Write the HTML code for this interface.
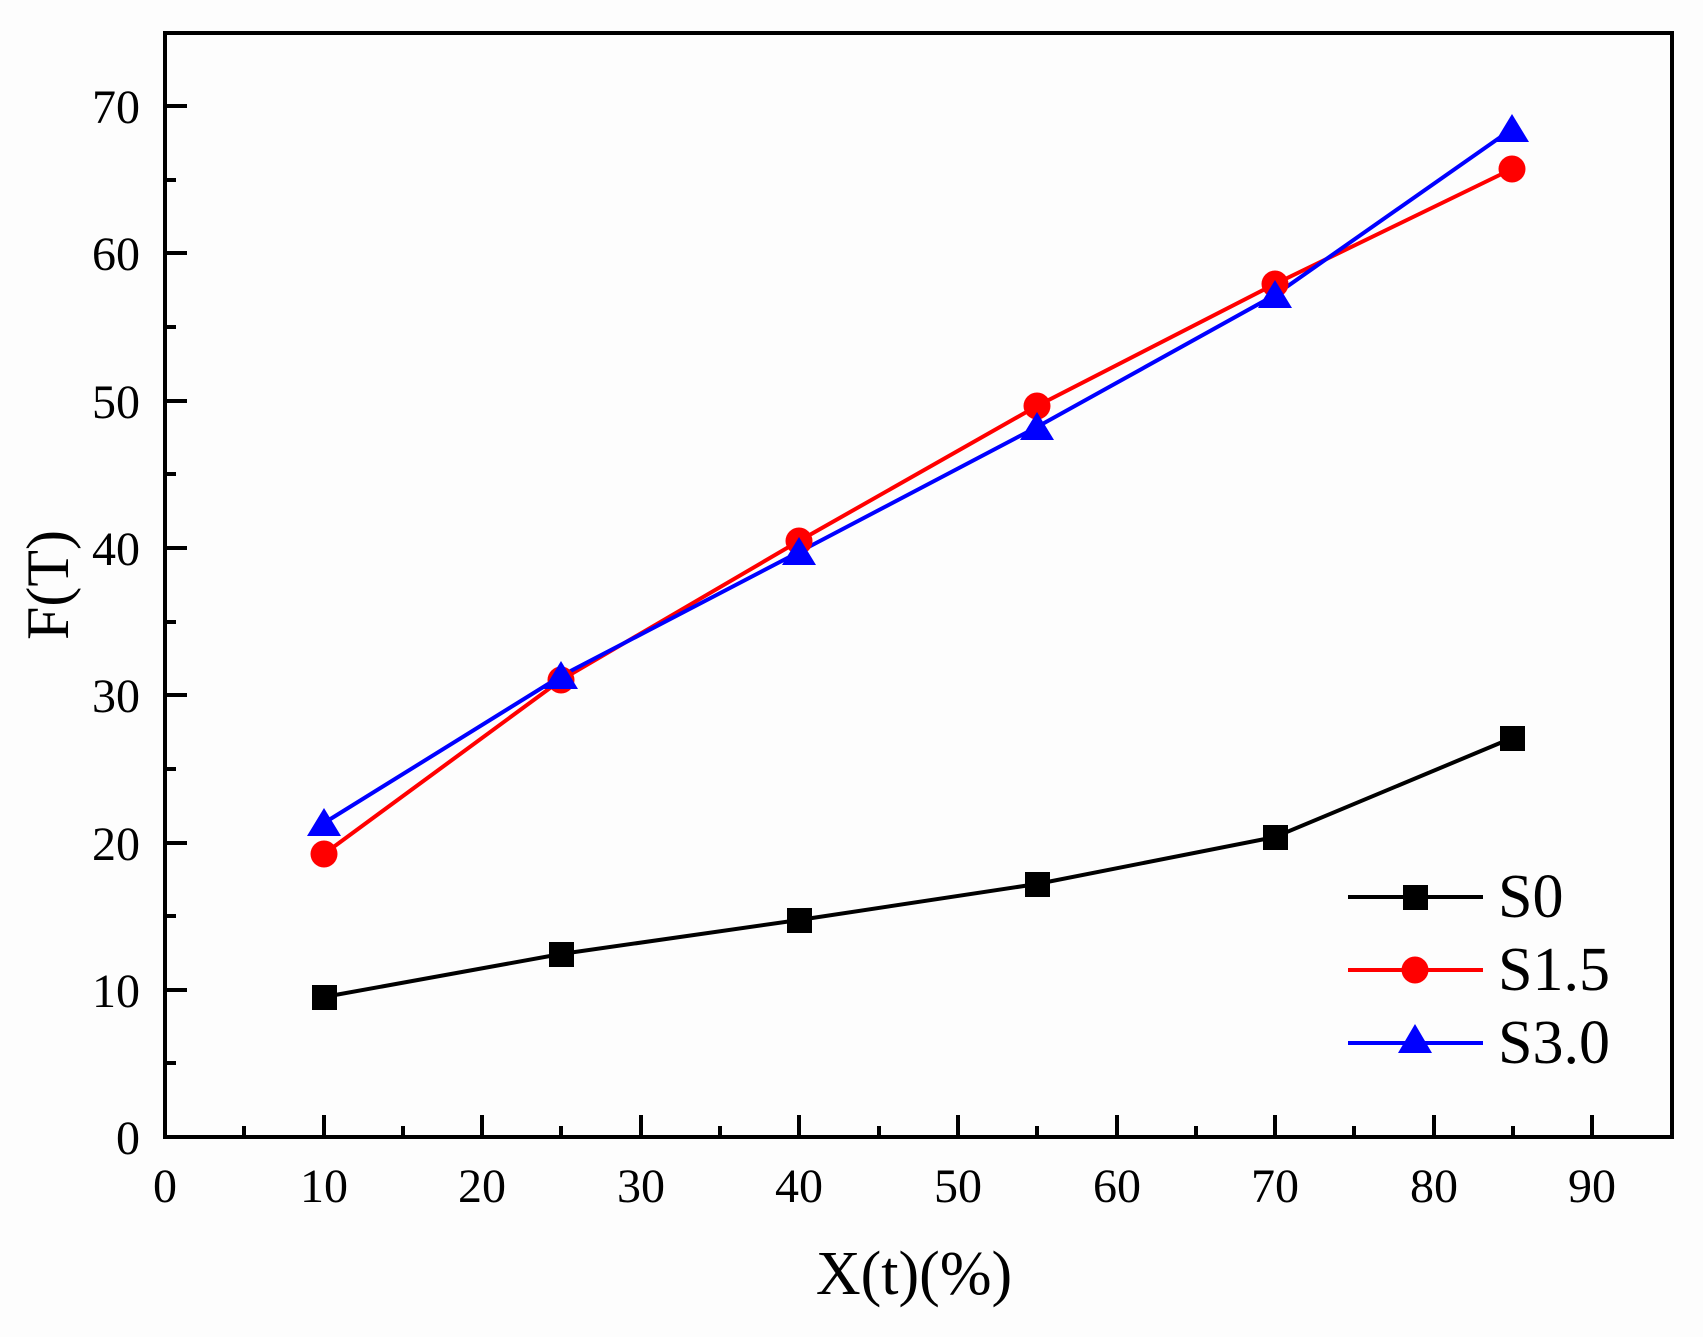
<!DOCTYPE html>
<html><head><style>html,body{margin:0;padding:0;background:#fdfdfd}</style></head>
<body>
<svg width="1703" height="1332" viewBox="0 0 1703 1332" xmlns="http://www.w3.org/2000/svg" font-family="Liberation Serif, serif">
<rect width="1703" height="1332" fill="#fdfdfd"/>
<rect x="165" y="33" width="1507" height="1104" fill="none" stroke="#000" stroke-width="4"/>
<g stroke="#000" stroke-width="4">
<line x1="165" y1="1137" x2="165" y2="1115"/><line x1="244" y1="1137" x2="244" y2="1126"/>
<line x1="324" y1="1137" x2="324" y2="1115"/><line x1="403" y1="1137" x2="403" y2="1126"/>
<line x1="482" y1="1137" x2="482" y2="1115"/><line x1="561" y1="1137" x2="561" y2="1126"/>
<line x1="641" y1="1137" x2="641" y2="1115"/><line x1="720" y1="1137" x2="720" y2="1126"/>
<line x1="799" y1="1137" x2="799" y2="1115"/><line x1="879" y1="1137" x2="879" y2="1126"/>
<line x1="958" y1="1137" x2="958" y2="1115"/><line x1="1037" y1="1137" x2="1037" y2="1126"/>
<line x1="1117" y1="1137" x2="1117" y2="1115"/><line x1="1196" y1="1137" x2="1196" y2="1126"/>
<line x1="1275" y1="1137" x2="1275" y2="1115"/><line x1="1354" y1="1137" x2="1354" y2="1126"/>
<line x1="1434" y1="1137" x2="1434" y2="1115"/><line x1="1513" y1="1137" x2="1513" y2="1126"/>
<line x1="1592" y1="1137" x2="1592" y2="1115"/>
<line x1="165" y1="1063" x2="176" y2="1063"/><line x1="165" y1="990" x2="187" y2="990"/>
<line x1="165" y1="916" x2="176" y2="916"/><line x1="165" y1="843" x2="187" y2="843"/>
<line x1="165" y1="769" x2="176" y2="769"/><line x1="165" y1="695" x2="187" y2="695"/>
<line x1="165" y1="622" x2="176" y2="622"/><line x1="165" y1="548" x2="187" y2="548"/>
<line x1="165" y1="474" x2="176" y2="474"/><line x1="165" y1="401" x2="187" y2="401"/>
<line x1="165" y1="327" x2="176" y2="327"/><line x1="165" y1="253" x2="187" y2="253"/>
<line x1="165" y1="180" x2="176" y2="180"/><line x1="165" y1="106" x2="187" y2="106"/>
</g>
<g font-size="48" text-anchor="middle" fill="#000">
<text x="165" y="1202">0</text><text x="324" y="1202">10</text><text x="482" y="1202">20</text>
<text x="641" y="1202">30</text><text x="799" y="1202">40</text><text x="958" y="1202">50</text>
<text x="1117" y="1202">60</text><text x="1275" y="1202">70</text><text x="1434" y="1202">80</text>
<text x="1592" y="1202">90</text>
</g>
<g font-size="48" text-anchor="end" fill="#000">
<text x="140" y="1154">0</text><text x="140" y="1007">10</text><text x="140" y="860">20</text>
<text x="140" y="712">30</text><text x="140" y="565">40</text><text x="140" y="418">50</text>
<text x="140" y="270">60</text><text x="140" y="123">70</text>
</g>
<text x="914" y="1294" font-size="62" text-anchor="middle">X(t)(%)</text>
<text transform="translate(68,585) rotate(-90)" font-size="60" text-anchor="middle">F(T)</text>
<polyline fill="none" stroke="#000" stroke-width="4" points="324,997 561,954 799,920 1037,884 1275,837 1512,738"/>
<polyline fill="none" stroke="#f00" stroke-width="4" points="324,854 561,680 799,541 1037,406 1275,284 1512,169"/>
<polyline fill="none" stroke="#00f" stroke-width="4" points="324,823 561,676 799,552 1037,427 1275,295 1512,129"/>
<g fill="#000">
<rect x="312" y="985" width="25" height="25"/><rect x="549" y="942" width="25" height="25"/>
<rect x="787" y="908" width="25" height="25"/><rect x="1025" y="872" width="25" height="25"/>
<rect x="1263" y="825" width="25" height="25"/><rect x="1500" y="726" width="25" height="25"/>
</g>
<g fill="#f00">
<circle cx="324" cy="854" r="13.5"/><circle cx="561" cy="680" r="13.5"/><circle cx="799" cy="541" r="13.5"/>
<circle cx="1037" cy="406" r="13.5"/><circle cx="1275" cy="284" r="13.5"/><circle cx="1512" cy="169" r="13.5"/>
</g>
<g fill="#00f">
<polygon points="324,808 341,836 307,836"/><polygon points="561,661 578,689 544,689"/>
<polygon points="799,537 816,565 782,565"/><polygon points="1037,412 1054,440 1020,440"/>
<polygon points="1275,280 1292,308 1258,308"/><polygon points="1512,114 1529,142 1495,142"/>
</g>
<line x1="1348" y1="897" x2="1483" y2="897" stroke="#000" stroke-width="4"/>
<rect x="1403" y="885" width="25" height="25" fill="#000"/>
<line x1="1348" y1="970" x2="1483" y2="970" stroke="#f00" stroke-width="4"/>
<circle cx="1415" cy="970" r="13.5" fill="#f00"/>
<line x1="1348" y1="1043" x2="1483" y2="1043" stroke="#00f" stroke-width="4"/>
<polygon points="1415,1024 1432,1053 1398,1053" fill="#00f"/>
<g font-size="62" fill="#000">
<text x="1498" y="917">S0</text><text x="1498" y="990">S1.5</text><text x="1498" y="1063">S3.0</text>
</g>
</svg>
</body></html>
